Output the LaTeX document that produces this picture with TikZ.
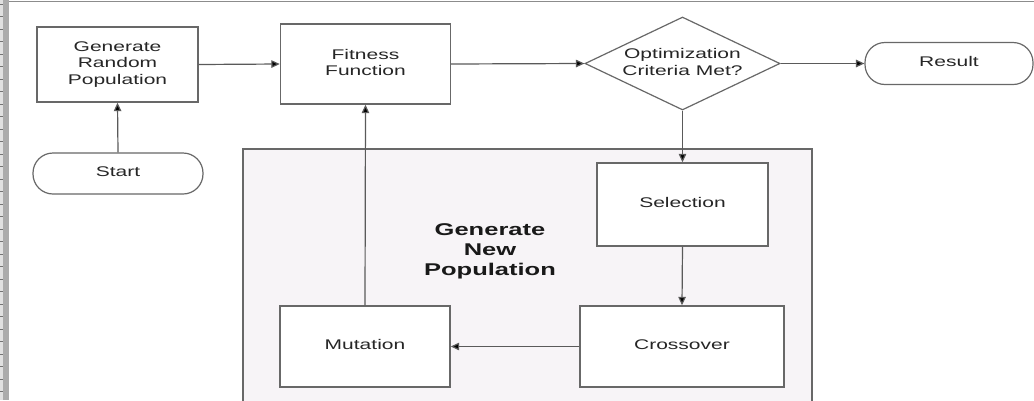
\documentclass[tikz,border=0pt]{standalone}
\usepackage{fontspec}
\usepackage{graphicx}
\setmainfont{Liberation Sans}
\usetikzlibrary{arrows.meta,shapes.geometric}
\definecolor{linegray}{HTML}{5A5A5A}
\definecolor{boxgray}{HTML}{686868}
\definecolor{panelfill}{HTML}{F7F4F7}
\definecolor{stripgray}{HTML}{ABABAB}
\newcommand\wt[1]{\scalebox{1.5}[1]{\begin{tabular}{@{}c@{}}#1\end{tabular}}}
\begin{document}
\begin{tikzpicture}[x=1pt,y=-1pt,
  every node/.style={font=\fontsize{14}{16.5}\selectfont, text=black!85},
  procbox/.style={draw=boxgray, line width=1.4pt, fill=white, inner sep=0pt},
  termbox/.style={draw=boxgray, line width=1.2pt, fill=white, inner sep=0pt, rounded corners=20pt},
  decbox/.style={draw=boxgray, line width=1.2pt, fill=white, diamond, inner sep=0pt, aspect=2.1},
  flow/.style={draw=linegray, line width=1.2pt, -{Triangle[length=8.5pt,width=7.5pt,fill=black]}},
  ticks/.style={draw=black!55, line width=0.8pt}
]
\useasboundingbox (0,0) rectangle (1034,400);
% screen frame
\fill[white] (0,0) rectangle (1034,400);
\fill[black!12] (0,0) rectangle (3,400);
\fill[stripgray] (3,0) rectangle (9,400);
\foreach \k in {0,...,32} {\draw[ticks] (0,4+12.5*\k) -- (3,4+12.5*\k);}
\draw[black!45, line width=1.2pt] (9,1.5) -- (1034,1.5);
% panel
\begin{scope}
\clip (0,0) rectangle (1034,400);
\node[draw=boxgray, line width=1.3pt, fill=panelfill, minimum width=569pt, minimum height=262pt, inner sep=0pt] (panel) at (527.5,280) {};
\end{scope}
\node[font=\bfseries\fontsize{17}{20}\selectfont, text=black!90] (title) at (490,251) {\wt{Generate\\New\\Population}};
% nodes
\node[procbox, minimum width=161pt, minimum height=75pt] (grp) at (117.5,64.5) {\wt{Generate\\Random\\Population}};
\node[procbox, minimum width=170pt, minimum height=80pt] (ff) at (365.5,64) {\wt{Fitness\\Function}};
\node[decbox, minimum width=195pt, minimum height=93pt] (opt) at (682.5,63.5) {\wt{Optimization\\Criteria Met?}};
\node[termbox, minimum width=168pt, minimum height=42pt] (res) at (949,63.5) {\wt{Result}};
\node[termbox, minimum width=170pt, minimum height=41pt] (start) at (118,173.5) {\wt{Start}};
\node[procbox, minimum width=171pt, minimum height=83pt] (sel) at (682.5,204.5) {\wt{Selection}};
\node[procbox, minimum width=204pt, minimum height=81pt] (cross) at (682,346.5) {\wt{Crossover}};
\node[procbox, minimum width=170pt, minimum height=81pt] (mut) at (365,346.5) {\wt{Mutation}};
% connectors
\draw[flow] (start.north) -- (grp.south);
\draw[flow] (grp.east) -- (ff.west);
\draw[flow] (ff.east) -- (opt.west);
\draw[flow] (opt.east) -- (res.west);
\draw[flow] (opt.south) -- (sel.north);
\draw[flow] (sel.south) -- (cross.north);
\draw[flow] (cross.west) -- (mut.east);
\draw[flow] (mut.north) -- (ff.south);
\end{tikzpicture}
\end{document}
